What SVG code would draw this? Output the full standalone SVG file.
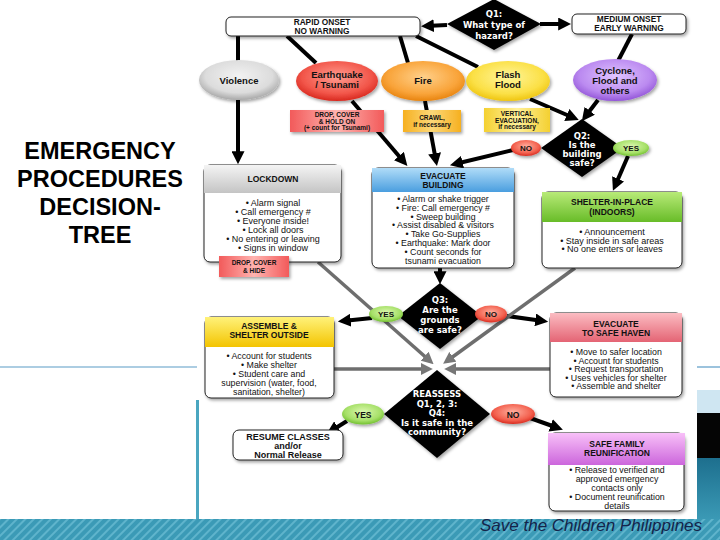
<svg xmlns="http://www.w3.org/2000/svg" width="720" height="540" viewBox="0 0 720 540">
<defs>
<style>
.t{font-family:"Liberation Sans",Arial,sans-serif;text-anchor:middle;fill:#111}
.b{font-weight:bold}
.w{fill:#fff;font-family:"DejaVu Sans","Liberation Sans",sans-serif;font-weight:bold;text-anchor:middle;font-size:8.5px}
.ln{stroke:#000;stroke-width:4;fill:none}
.la{stroke:#000;stroke-width:4;fill:none;marker-end:url(#ah)}
.lg{stroke:#6e6e6e;stroke-width:3.5;fill:none;marker-end:url(#ag)}
.body{fill:#fff;stroke:#222;stroke-width:1}
.hdr{stroke:none}
.title{font-family:"Liberation Sans",Arial,sans-serif;font-weight:bold;font-size:23.5px;text-anchor:middle;fill:#000}
</style>
<marker id="ah" viewBox="0 0 10 10" refX="6" refY="5" markerWidth="13" markerHeight="13" markerUnits="userSpaceOnUse" orient="auto"><path d="M0,0 L10,5 L0,10 z" fill="#000"/></marker>
<marker id="ag" viewBox="0 0 10 10" refX="6" refY="5" markerWidth="12" markerHeight="12" markerUnits="userSpaceOnUse" orient="auto"><path d="M0,0 L10,5 L0,10 z" fill="#777"/></marker>
<filter id="sh" x="-10%" y="-10%" width="130%" height="140%"><feDropShadow dx="1.5" dy="2" stdDeviation="1.5" flood-opacity="0.35"/></filter>
<radialGradient id="gGrey" cx="50%" cy="40%" r="60%"><stop offset="0" stop-color="#f2f2f2"/><stop offset="0.7" stop-color="#dcdcdc"/><stop offset="1" stop-color="#a8a8a8"/></radialGradient>
<radialGradient id="gRed" cx="50%" cy="40%" r="60%"><stop offset="0" stop-color="#ff9c90"/><stop offset="0.7" stop-color="#f2564a"/><stop offset="1" stop-color="#d8281e"/></radialGradient>
<radialGradient id="gOrange" cx="50%" cy="40%" r="60%"><stop offset="0" stop-color="#ffd08a"/><stop offset="0.7" stop-color="#f9a43a"/><stop offset="1" stop-color="#e88410"/></radialGradient>
<radialGradient id="gYellow" cx="50%" cy="40%" r="60%"><stop offset="0" stop-color="#fff59a"/><stop offset="0.7" stop-color="#fbe046"/><stop offset="1" stop-color="#efc510"/></radialGradient>
<radialGradient id="gPurple" cx="50%" cy="40%" r="60%"><stop offset="0" stop-color="#e0c4ff"/><stop offset="0.7" stop-color="#bb8af0"/><stop offset="1" stop-color="#9356d8"/></radialGradient>
<radialGradient id="gYes" cx="50%" cy="40%" r="60%"><stop offset="0" stop-color="#dcf8b0"/><stop offset="0.7" stop-color="#a6e068"/><stop offset="1" stop-color="#72c030"/></radialGradient>
<radialGradient id="gNo" cx="50%" cy="40%" r="60%"><stop offset="0" stop-color="#ffb0a0"/><stop offset="0.7" stop-color="#f3604e"/><stop offset="1" stop-color="#d82c20"/></radialGradient>
<linearGradient id="hGrey" x1="0" y1="0" x2="0" y2="1"><stop offset="0" stop-color="#f4f4f4"/><stop offset="1" stop-color="#c4c4c4"/></linearGradient>
<linearGradient id="hBlue" x1="0" y1="0" x2="0" y2="1"><stop offset="0" stop-color="#b0dcf8"/><stop offset="1" stop-color="#4a9edf"/></linearGradient>
<linearGradient id="hGreen" x1="0" y1="0" x2="0" y2="1"><stop offset="0" stop-color="#b8ea78"/><stop offset="1" stop-color="#68bc28"/></linearGradient>
<linearGradient id="hYellow" x1="0" y1="0" x2="0" y2="1"><stop offset="0" stop-color="#fff27a"/><stop offset="1" stop-color="#f3c400"/></linearGradient>
<linearGradient id="hPink" x1="0" y1="0" x2="0" y2="1"><stop offset="0" stop-color="#fbbcc2"/><stop offset="1" stop-color="#e46474"/></linearGradient>
<linearGradient id="hMag" x1="0" y1="0" x2="0" y2="1"><stop offset="0" stop-color="#f8c0f8"/><stop offset="1" stop-color="#cc66dc"/></linearGradient>
<linearGradient id="aRed" x1="0" y1="0" x2="1" y2="0"><stop offset="0" stop-color="#f25a5a"/><stop offset="0.5" stop-color="#ffb4b0"/><stop offset="1" stop-color="#f25a5a"/></linearGradient>
<linearGradient id="aOrange" x1="0" y1="0" x2="1" y2="0"><stop offset="0" stop-color="#f6b020"/><stop offset="0.5" stop-color="#fcd878"/><stop offset="1" stop-color="#f6b020"/></linearGradient>
<linearGradient id="aYellow" x1="0" y1="0" x2="1" y2="0"><stop offset="0" stop-color="#f4d030"/><stop offset="0.5" stop-color="#fff09a"/><stop offset="1" stop-color="#f4d030"/></linearGradient>
<pattern id="hatch" width="6" height="6" patternUnits="userSpaceOnUse" patternTransform="rotate(45)"><rect width="6" height="6" fill="#3b9ab6"/><rect width="2" height="6" fill="#5fb4cc"/></pattern>
<linearGradient id="tealR" x1="0" y1="0" x2="0" y2="1"><stop offset="0" stop-color="#1d6f8e"/><stop offset="1" stop-color="#3b9ab6"/></linearGradient>
</defs>

<!-- slide background -->
<rect x="0" y="0" width="720" height="540" fill="#fff"/>
<line x1="0" y1="367" x2="197" y2="367" stroke="#5a9cc6" stroke-width="1.2"/>
<line x1="697" y1="367" x2="720" y2="367" stroke="#5a9cc6" stroke-width="1.2"/>
<rect x="697" y="390" width="23" height="23" fill="#cfe6f2"/>
<rect x="697" y="413" width="23" height="45" fill="#050505"/>
<rect x="697" y="458" width="23" height="62" fill="url(#tealR)"/>
<rect x="0" y="519" width="720" height="21" fill="url(#hatch)"/>
<rect x="196" y="400" width="3" height="119" fill="#4aa6c0"/>

<!-- picture area -->
<rect x="199" y="0" width="498" height="519" fill="#fff"/>

<!-- title -->
<g id="title">
<text class="title" x="100" y="159">EMERGENCY</text>
<text class="title" x="100" y="187">PROCEDURES</text>
<text class="title" x="100" y="215">DECISION-</text>
<text class="title" x="100" y="243">TREE</text>
</g>

<!-- connectors -->
<g id="connectors">
<line class="la" x1="447" y1="25" x2="426" y2="26"/>
<line class="la" x1="540" y1="24" x2="566" y2="24"/>
<line class="ln" x1="238" y1="36" x2="238" y2="61"/>
<line class="ln" x1="287" y1="36" x2="316" y2="63"/>
<line class="ln" x1="400" y1="36" x2="408" y2="63"/>
<line class="ln" x1="416" y1="36" x2="478" y2="67"/>
<line class="ln" x1="632" y1="34" x2="618" y2="61"/>
<line class="la" x1="238" y1="100" x2="238" y2="159"/>
<line class="la" x1="352" y1="101" x2="404" y2="162"/>
<line class="la" x1="425" y1="101" x2="436" y2="161"/>
<line class="la" x1="530" y1="99" x2="574" y2="118"/>
<line class="la" x1="598" y1="100" x2="585" y2="117"/>
<line class="la" x1="513" y1="150" x2="455" y2="164"/>
<line class="la" x1="628" y1="156" x2="615" y2="186"/>
<line class="la" x1="440" y1="268" x2="440" y2="279"/>
<line class="la" x1="372" y1="318" x2="343" y2="321"/>
<line class="la" x1="507" y1="316" x2="543" y2="321"/>
<line class="lg" x1="318" y1="262" x2="430" y2="361"/>
<line class="lg" x1="575" y1="268" x2="447" y2="361"/>
<line class="lg" x1="334" y1="369" x2="428" y2="369"/>
<line class="lg" x1="550" y1="369" x2="449" y2="369"/>
<line class="la" x1="347" y1="421" x2="331" y2="431"/>
<line class="la" x1="530" y1="418" x2="558" y2="428"/>
</g>

<!-- onset boxes -->
<g id="rapid">
<rect x="226" y="17" width="194" height="19" rx="5" fill="#fff" stroke="#222" stroke-width="1" filter="url(#sh)"/>
<text class="t b" x="322" y="24.5" font-size="8.3">RAPID ONSET</text>
<text class="t b" x="322" y="33.5" font-size="8.3">NO WARNING</text>
</g>
<g id="medium">
<rect x="572" y="14" width="114" height="20" rx="5" fill="#fff" stroke="#222" stroke-width="1" filter="url(#sh)"/>
<text class="t b" x="629" y="22" font-size="8.3">MEDIUM ONSET</text>
<text class="t b" x="629" y="31" font-size="8.3">EARLY WARNING</text>
</g>

<!-- Q1 -->
<g id="q1">
<polygon points="494,-1 541,24 494,50 447,24" fill="#000" filter="url(#sh)"/>
<text class="w" x="494" y="17">Q1:</text>
<text class="w" x="494" y="28">What type of</text>
<text class="w" x="494" y="39">hazard?</text>
</g>

<!-- hazards -->
<g id="violence">
<ellipse cx="239" cy="80" rx="40" ry="20" fill="url(#gGrey)" filter="url(#sh)"/>
<text class="t b" x="239" y="84" font-size="9.5">Violence</text>
</g>
<g id="earthquake">
<ellipse cx="337" cy="81" rx="41" ry="20" fill="url(#gRed)" filter="url(#sh)"/>
<text class="t b" x="337" y="78" font-size="9.5">Earthquake</text>
<text class="t b" x="337" y="88" font-size="9.5">/ Tsunami</text>
</g>
<g id="fire">
<ellipse cx="423" cy="81" rx="42" ry="20" fill="url(#gOrange)" filter="url(#sh)"/>
<text class="t b" x="423" y="84" font-size="9.5">Fire</text>
</g>
<g id="flash">
<ellipse cx="508" cy="81" rx="42" ry="20" fill="url(#gYellow)" filter="url(#sh)"/>
<text class="t b" x="508" y="78" font-size="9.5">Flash</text>
<text class="t b" x="508" y="88" font-size="9.5">Flood</text>
</g>
<g id="cyclone">
<ellipse cx="615" cy="80" rx="42" ry="21" fill="url(#gPurple)" filter="url(#sh)"/>
<text class="t b" x="615" y="74" font-size="9.5">Cyclone,</text>
<text class="t b" x="615" y="84" font-size="9.5">Flood and</text>
<text class="t b" x="615" y="94" font-size="9.5">others</text>
</g>

<!-- actions -->
<g id="drop">
<rect x="290" y="110" width="94" height="22" fill="url(#aRed)" filter="url(#sh)"/>
<text class="t b" x="337" y="117" font-size="6.5">DROP, COVER</text>
<text class="t b" x="337" y="123.5" font-size="6.5">&amp; HOLD ON</text>
<text class="t b" x="337" y="130" font-size="6.5">(+ count for Tsunami)</text>
</g>
<g id="crawl">
<rect x="403" y="110" width="58" height="22" fill="url(#aOrange)" filter="url(#sh)"/>
<text class="t b" x="432" y="119.5" font-size="6.5">CRAWL,</text>
<text class="t b" x="432" y="126.5" font-size="6.5">if necessary</text>
</g>
<g id="vertical">
<rect x="484" y="108" width="66" height="24" fill="url(#aYellow)" filter="url(#sh)"/>
<text class="t b" x="517" y="116" font-size="6.5">VERTICAL</text>
<text class="t b" x="517" y="122.5" font-size="6.5">EVACUATION,</text>
<text class="t b" x="517" y="129" font-size="6.5">if necessary</text>
</g>

<!-- Q2 -->
<g id="q2">
<polygon points="582,119 623,148 582,177 541,148" fill="#000" filter="url(#sh)"/>
<text class="w" x="582" y="139">Q2:</text>
<text class="w" x="582" y="148">Is the</text>
<text class="w" x="582" y="157">building</text>
<text class="w" x="582" y="166">safe?</text>
<ellipse cx="526" cy="148" rx="15" ry="8" fill="url(#gNo)" filter="url(#sh)"/>
<text class="t b" x="526" y="151" font-size="8">NO</text>
<ellipse cx="631" cy="148" rx="18" ry="8" fill="url(#gYes)" filter="url(#sh)"/>
<text class="t b" x="631" y="151" font-size="8">YES</text>
</g>

<!-- Lockdown -->
<g id="lockdown">
<rect class="body" x="204" y="165" width="137" height="97" rx="6" filter="url(#sh)"/>
<rect class="hdr" x="204" y="165" width="137" height="28" fill="url(#hGrey)"/>
<text class="t b" x="273" y="182" font-size="8.5">LOCKDOWN</text>
<text class="t" x="273" y="206" font-size="9">• Alarm signal</text>
<text class="t" x="273" y="215" font-size="9">• Call emergency #</text>
<text class="t" x="273" y="224" font-size="9">• Everyone inside!</text>
<text class="t" x="273" y="233" font-size="9">• Lock all doors</text>
<text class="t" x="273" y="242" font-size="9">• No entering or leaving</text>
<text class="t" x="273" y="251" font-size="9">• Signs in window</text>
<rect x="219" y="256" width="70" height="21" fill="url(#aRed)" filter="url(#sh)"/>
<text class="t b" x="254" y="265" font-size="6.5">DROP, COVER</text>
<text class="t b" x="254" y="273" font-size="6.5">&amp; HIDE</text>
</g>

<!-- Evacuate building -->
<g id="evacuate">
<rect class="body" x="372" y="168" width="142" height="100" rx="6" filter="url(#sh)"/>
<rect class="hdr" x="372" y="168" width="142" height="24" fill="url(#hBlue)"/>
<text class="t b" x="443" y="178.5" font-size="8.5">EVACUATE</text>
<text class="t b" x="443" y="188" font-size="8.5">BUILDING</text>
<text class="t" x="443" y="202" font-size="8.8">• Alarm or shake trigger</text>
<text class="t" x="443" y="210.8" font-size="8.8">• Fire: Call emergency #</text>
<text class="t" x="443" y="219.6" font-size="8.8">• Sweep building</text>
<text class="t" x="443" y="228.4" font-size="8.8">• Assist disabled &amp; visitors</text>
<text class="t" x="443" y="237.2" font-size="8.8">• Take Go-Supplies</text>
<text class="t" x="443" y="246" font-size="8.8">• Earthquake: Mark door</text>
<text class="t" x="443" y="254.8" font-size="8.8">• Count seconds for</text>
<text class="t" x="443" y="263.6" font-size="8.8">tsunami evacuation</text>
</g>

<!-- Shelter in place -->
<g id="shelter">
<rect class="body" x="542" y="192" width="140" height="76" rx="6" filter="url(#sh)"/>
<rect class="hdr" x="542" y="192" width="140" height="30" fill="url(#hGreen)"/>
<text class="t b" x="612" y="205" font-size="8.5">SHELTER-IN-PLACE</text>
<text class="t b" x="612" y="215" font-size="8.5">(INDOORS)</text>
<text class="t" x="612" y="235" font-size="9">• Announcement</text>
<text class="t" x="612" y="243.5" font-size="9">• Stay inside in safe areas</text>
<text class="t" x="612" y="252" font-size="9">• No one enters or leaves</text>
</g>

<!-- Q3 -->
<g id="q3">
<polygon points="440,283 482,316 440,349 398,316" fill="#000" filter="url(#sh)"/>
<text class="w" x="440" y="303">Q3:</text>
<text class="w" x="440" y="313">Are the</text>
<text class="w" x="440" y="323">grounds</text>
<text class="w" x="440" y="333">are safe?</text>
<ellipse cx="386" cy="314" rx="17" ry="8" fill="url(#gYes)" filter="url(#sh)"/>
<text class="t b" x="386" y="317" font-size="8">YES</text>
<ellipse cx="491" cy="314" rx="16" ry="8.5" fill="url(#gNo)" filter="url(#sh)"/>
<text class="t b" x="491" y="317" font-size="8">NO</text>
</g>

<!-- Assemble -->
<g id="assemble">
<rect class="body" x="205" y="317" width="129" height="81" rx="6" filter="url(#sh)"/>
<rect class="hdr" x="205" y="317" width="129" height="30" fill="url(#hYellow)"/>
<text class="t b" x="269" y="329" font-size="8.5">ASSEMBLE &amp;</text>
<text class="t b" x="269" y="338" font-size="8.5">SHELTER OUTSIDE</text>
<text class="t" x="269" y="359" font-size="8.8">• Account for students</text>
<text class="t" x="269" y="368" font-size="8.8">• Make shelter</text>
<text class="t" x="269" y="377" font-size="8.8">• Student care and</text>
<text class="t" x="269" y="386" font-size="8.8">supervision (water, food,</text>
<text class="t" x="269" y="395" font-size="8.8">sanitation, shelter)</text>
</g>

<!-- Evacuate to safe haven -->
<g id="safehaven">
<rect class="body" x="550" y="313" width="132" height="84" rx="6" filter="url(#sh)"/>
<rect class="hdr" x="550" y="313" width="132" height="29" fill="url(#hPink)"/>
<text class="t b" x="616" y="327" font-size="8.5">EVACUATE</text>
<text class="t b" x="616" y="336" font-size="8.5">TO SAFE HAVEN</text>
<text class="t" x="616" y="355" font-size="8.8">• Move to safer location</text>
<text class="t" x="616" y="363.5" font-size="8.8">• Account for students</text>
<text class="t" x="616" y="372" font-size="8.8">• Request transportation</text>
<text class="t" x="616" y="380.5" font-size="8.8">• Uses vehicles for shelter</text>
<text class="t" x="616" y="389" font-size="8.8">• Assemble and shelter</text>
</g>

<!-- Q4 -->
<g id="q4">
<polygon points="437,370 490,414 437,458 384,414" fill="#000" filter="url(#sh)"/>
<text class="w" x="437" y="397">REASSESS</text>
<text class="w" x="437" y="406.5">Q1, 2, 3:</text>
<text class="w" x="437" y="416">Q4:</text>
<text class="w" x="437" y="425.5">Is it safe in the</text>
<text class="w" x="437" y="435">community?</text>
<ellipse cx="363" cy="414" rx="21" ry="10.5" fill="url(#gYes)" filter="url(#sh)"/>
<text class="t b" x="363" y="417.5" font-size="8.5">YES</text>
<ellipse cx="513" cy="414" rx="22" ry="10" fill="url(#gNo)" filter="url(#sh)"/>
<text class="t b" x="513" y="417.5" font-size="8.5">NO</text>
</g>

<!-- Resume classes -->
<g id="resume">
<rect x="233" y="430" width="110" height="30" rx="6" fill="#fff" stroke="#222" stroke-width="1" filter="url(#sh)"/>
<text class="t b" x="288" y="440" font-size="9">RESUME CLASSES</text>
<text class="t b" x="288" y="449" font-size="9">and/or</text>
<text class="t b" x="288" y="458" font-size="9">Normal Release</text>
</g>

<!-- Safe family reunification -->
<g id="reunification">
<rect class="body" x="549" y="433" width="135" height="78" rx="6" filter="url(#sh)"/>
<rect class="hdr" x="548" y="433" width="137" height="32" fill="url(#hMag)"/>
<text class="t b" x="617" y="447" font-size="8.5">SAFE FAMILY</text>
<text class="t b" x="617" y="456" font-size="8.5">REUNIFICATION</text>
<text class="t" x="617" y="473" font-size="8.8">• Release to verified and</text>
<text class="t" x="617" y="482" font-size="8.8">approved emergency</text>
<text class="t" x="617" y="491" font-size="8.8">contacts only</text>
<text class="t" x="617" y="500" font-size="8.8">• Document reunification</text>
<text class="t" x="617" y="509" font-size="8.8">details</text>
</g>

<text x="480" y="531" font-family="'Liberation Sans',Arial,sans-serif" font-style="italic" font-size="17" fill="#15244a">Save the Children Philippines</text>
</svg>
